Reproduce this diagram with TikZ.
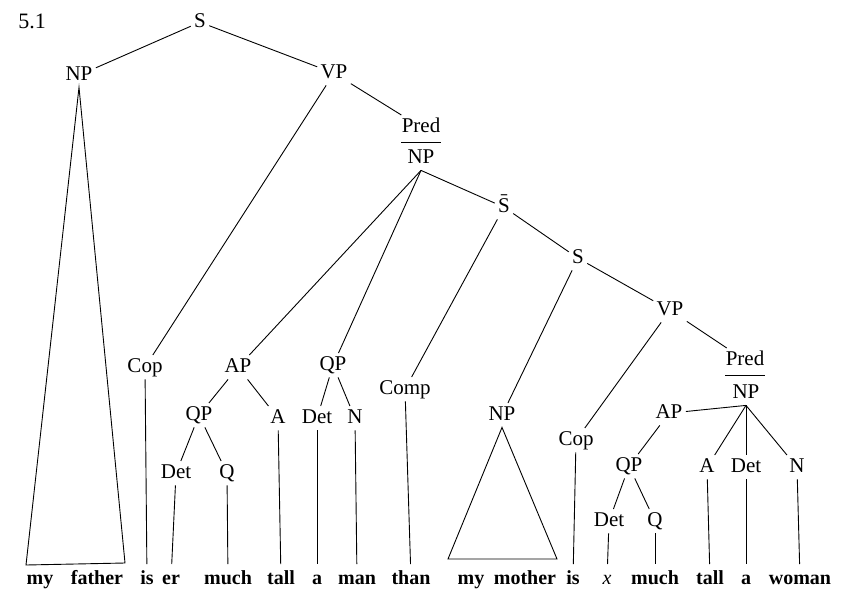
\documentclass[tikz,border=0pt]{standalone}
\usepackage{fontspec}
\setmainfont{Liberation Serif}
\usetikzlibrary{positioning, calc}

\begin{document}
\begin{tikzpicture}[
    x=0.5pt, y=-0.5pt,
    cat/.style={
        anchor=base, inner sep=1.5pt, text height=0.68em, text depth=0.2em,
        font=\fontsize{10.5}{12}\selectfont
    },
    frac/.style={cat, inner xsep=0pt},
    word/.style={
        anchor=base, inner sep=3pt, text height=0.68em, text depth=0.2em,
        font=\fontsize{10}{12}\selectfont\bfseries
    },
    branch/.style={draw, line width=0.45pt},
    bar/.style={draw, line width=0.3pt}
]
    \useasboundingbox (0,0) rectangle (851,589);

    % categories
    \node[cat, font=\fontsize{11}{12}\selectfont] (Num) at (32,28) {5.1};
    \node[cat] (S) at (200,27) {S};
    \node[cat] (NP) at (79,80) {NP};
    \node[cat] (VP) at (334,78) {VP};
    \node[frac] (Pred) at (421,132) {Pred};
    \node[frac] (PNP) at (421,163) {NP};
    \node[cat] (Sbar) at (504,212) {\={S}};
    \node[cat] (S2) at (578,263) {S};
    \node[cat] (Cop) at (145,372) {Cop};
    \node[cat] (AP) at (238,372) {AP};
    \node[cat] (QP) at (333,370) {QP};
    \node[cat] (Comp) at (405,394) {Comp};
    \node[cat] (QPa) at (199,420) {QP};
    \node[cat] (A) at (278,423) {A};
    \node[cat] (DetN) at (317,423) {Det};
    \node[cat] (N) at (355,423) {N};
    \node[cat] (DetQ) at (176,478) {Det};
    \node[cat] (Q) at (227,478) {Q};
    \node[cat] (NPobj) at (502,420) {NP};
    \node[cat] (VP2) at (670,315) {VP};
    \node[frac] (Pred2) at (745,365) {Pred};
    \node[frac] (PNP2) at (746,398) {NP};
    \node[cat] (AP2) at (669,418) {AP};
    \node[cat] (Cop2) at (576,445) {Cop};
    \node[cat] (QP2) at (629,471) {QP};
    \node[cat] (A2) at (707,472) {A};
    \node[cat] (Det2) at (746,472) {Det};
    \node[cat] (N2) at (797,472) {N};
    \node[cat] (DetX) at (609,526) {Det};
    \node[cat] (Q2) at (655,526) {Q};

    % words
    \node[word] (my) at (40,584) {my};
    \node[word] (father) at (97,584) {father};
    \node[word] (is) at (147,584) {is};
    \node[word] (er) at (171,584) {er};
    \node[word] (much) at (228,584) {much};
    \node[word] (tall) at (281,584) {tall};
    \node[word] (a) at (317,584) {a};
    \node[word] (man) at (357,584) {man};
    \node[word] (than) at (411,584) {than};
    \node[word] (my2) at (471,584) {my};
    \node[word] (mother) at (525,584) {mother};
    \node[word] (is2) at (573,584) {is};
    \node[word, font=\fontsize{10}{12}\selectfont\itshape] (x) at (607,584) {x};
    \node[word] (much2) at (655,584) {much};
    \node[word] (tall2) at (710,584) {tall};
    \node[word] (a2) at (746,584) {a};
    \node[word] (woman) at (800,584) {woman};

    \coordinate (TriA1) at (26,565);
    \coordinate (TriA2) at (125,563);
    \coordinate (TriB1) at (448,559);
    \coordinate (TriB2) at (557,559);

    % fraction bars
    \draw[bar] ([yshift=-1.5pt]Pred.south west) -- ([yshift=-1.5pt]Pred.south east);
    \draw[bar] ([yshift=-1.5pt]Pred2.south west) -- ([yshift=-1.5pt]Pred2.south east);

    % upper tree
    \draw[branch] (S) -- (NP);
    \draw[branch] (S) -- (VP);
    \draw[branch] (NP.south) -- (TriA1) -- (TriA2) -- cycle;
    \draw[branch] (VP) -- (Cop);
    \draw[branch] (VP) -- (Pred);
    \draw[branch] (PNP.south) -- (AP);
    \draw[branch] (PNP.south) -- (QP);
    \draw[branch] (PNP.south) -- (Sbar);
    \draw[branch] (AP) -- (QPa);
    \draw[branch] (AP) -- (A);
    \draw[branch] (QPa) -- (DetQ);
    \draw[branch] (QPa) -- (Q);
    \draw[branch] (QP) -- (DetN);
    \draw[branch] (QP) -- (N);

    % comparative clause
    \draw[branch] (Sbar) -- (Comp);
    \draw[branch] (Sbar) -- (S2);
    \draw[branch] (S2) -- (NPobj);
    \draw[branch] (S2) -- (VP2);
    \draw[branch] (NPobj.south) -- (TriB1) -- (TriB2) -- cycle;
    \draw[branch] (VP2) -- (Cop2);
    \draw[branch] (VP2) -- (Pred2);
    \draw[branch] (PNP2.south) -- (AP2);
    \draw[branch] (PNP2.south) -- (A2);
    \draw[branch] (PNP2.south) -- (Det2);
    \draw[branch] (PNP2.south) -- (N2);
    \draw[branch] (AP2) -- (QP2);
    \draw[branch] (QP2) -- (DetX);
    \draw[branch] (QP2) -- (Q2);

    % leaves
    \draw[branch] (Cop) -- (is);
    \draw[branch] (DetQ) -- (er);
    \draw[branch] (Q) -- (much);
    \draw[branch] (A) -- (tall);
    \draw[branch] (DetN) -- (a);
    \draw[branch] (N) -- (man);
    \draw[branch] (Comp) -- (than);
    \draw[branch] (Cop2) -- (is2);
    \draw[branch] (DetX) -- (x);
    \draw[branch] (Q2) -- (much2);
    \draw[branch] (A2) -- (tall2);
    \draw[branch] (Det2) -- (a2);
    \draw[branch] (N2) -- (woman);
\end{tikzpicture}
\end{document}
